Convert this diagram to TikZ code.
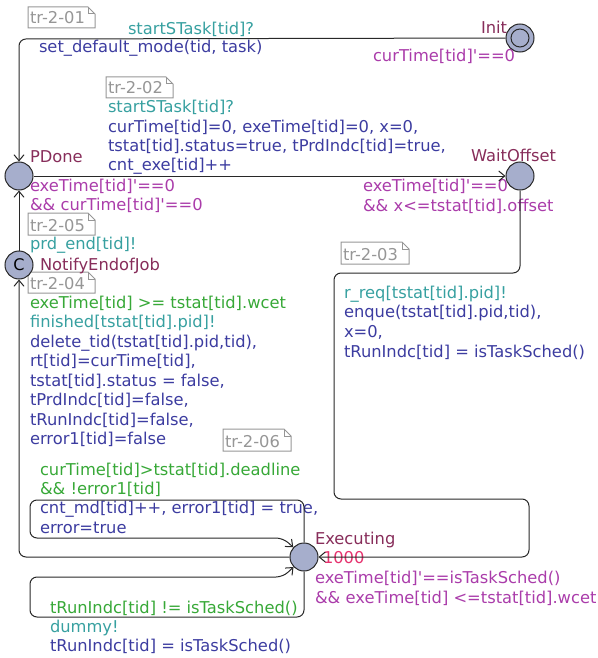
\documentclass[tikz,border=0pt]{standalone}
\usepackage{fontspec}
\setmainfont{DejaVu Sans}
\usetikzlibrary{arrows.meta}
\definecolor{locname}{RGB}{135,45,90}
\definecolor{inv}{RGB}{170,60,170}
\definecolor{guard}{RGB}{55,168,55}
\definecolor{sync}{RGB}{55,160,160}
\definecolor{upd}{RGB}{60,60,160}
\definecolor{notec}{RGB}{150,150,150}
\definecolor{rate}{RGB}{230,50,110}
\definecolor{locfill}{RGB}{166,174,204}
\definecolor{edgec}{RGB}{40,40,40}
\newcommand{\pr}{\textquotesingle}
\newcommand{\lab}[5]{\node[lbl,text=#4] (#1) at (#2,#3) {#5};}
\newcommand{\notebox}[6]{%
  \draw[notebox] (#2,#3) -- ({#4-7},#3) -- (#4,{#3+7}) -- (#4,#5) -- (#2,#5) -- cycle;
  \draw[notebox] ({#4-7},#3) -- ({#4-7},{#3+7}) -- (#4,{#3+7});
  \node[lbl,text=notec] (#1) at ({#2+2},{#5-4}) {#6};}
\begin{document}
\begin{tikzpicture}[x=1pt,y=-1pt,
  lbl/.style={inner sep=0pt,outer sep=0pt,anchor=base west,font=\fontsize{16.3}{19.5}\selectfont},
  loc/.style={circle,draw=edgec,fill=locfill,line width=1pt,minimum size=28pt,inner sep=0pt},
  edge/.style={draw=edgec,line width=1pt,rounded corners=7pt,-{Straight Barb[length=6pt,width=10pt]}},
  notebox/.style={draw=notec,line width=1pt}]
\useasboundingbox (0,0) rectangle (597,658);

% notes
\notebox{t1}{28}{7}{95}{28}{tr-2-01}
\notebox{t2}{106}{77}{173}{98}{tr-2-02}
\notebox{t3}{341}{242}{409}{264}{tr-2-03}
\notebox{t4}{28}{272}{95}{293}{tr-2-04}
\notebox{t5}{28}{213}{95}{235}{tr-2-05}
\notebox{t6}{223}{429}{291}{451}{tr-2-06}

% labels
\lab{n01}{128}{35}{sync}{startSTask[tid]?}
\lab{n02}{39}{53}{upd}{set\_default\_mode(tid, task)}
\lab{n03}{108}{113}{sync}{startSTask[tid]?}
\lab{n04}{108}{132}{upd}{curTime[tid]=0, exeTime[tid]=0, x=0,}
\lab{n05}{108}{151}{upd}{tstat[tid].status=true, tPrdIndc[tid]=true,}
\lab{n06}{108}{170}{upd}{cnt\_exe[tid]++}
\lab{n07}{481}{34}{locname}{Init}
\lab{n08}{373}{62}{inv}{curTime[tid]\pr==0}
\lab{n09}{30}{162}{locname}{PDone}
\lab{n10}{30}{191}{inv}{exeTime[tid]\pr==0}
\lab{n11}{30}{210}{inv}{\&\& curTime[tid]\pr==0}
\lab{n12}{471}{161}{locname}{WaitOffset}
\lab{n13}{363}{191}{inv}{exeTime[tid]\pr==0}
\lab{n14}{363}{211}{inv}{\&\& x<=tstat[tid].offset}
\lab{n15}{30}{249}{sync}{prd\_end[tid]!}
\lab{n16}{40}{270}{locname}{NotifyEndofJob}
\lab{n17}{30}{308}{guard}{exeTime[tid] >= tstat[tid].wcet}
\lab{n18}{30}{327.5}{sync}{finished[tstat[tid].pid]!}
\lab{n19}{30}{347}{upd}{delete\_tid(tstat[tid].pid,tid),}
\lab{n20}{30}{366.5}{upd}{rt[tid]=curTime[tid],}
\lab{n21}{30}{386}{upd}{tstat[tid].status = false,}
\lab{n22}{30}{405.5}{upd}{tPrdIndc[tid]=false,}
\lab{n23}{30}{425}{upd}{tRunIndc[tid]=false,}
\lab{n24}{30}{444.5}{upd}{error1[tid]=false}
\lab{n25}{344}{298}{sync}{r\_req[tstat[tid].pid]!}
\lab{n26}{344}{317}{upd}{enque(tstat[tid].pid,tid),}
\lab{n27}{344}{337}{upd}{x=0,}
\lab{n28}{344}{357}{upd}{tRunIndc[tid] = isTaskSched()}
\lab{n29}{40}{475}{guard}{curTime[tid]>tstat[tid].deadline}
\lab{n30}{40}{494}{guard}{\&\& !error1[tid]}
\lab{n31}{40}{513}{upd}{cnt\_md[tid]++, error1[tid] = true,}
\lab{n32}{40}{533}{upd}{error=true}
\lab{n33}{50}{613}{guard}{tRunIndc[tid] != isTaskSched()}
\lab{n34}{50}{632}{sync}{dummy!}
\lab{n35}{50}{651}{upd}{tRunIndc[tid] = isTaskSched()}
\lab{n36}{315}{544}{locname}{Executing}
\lab{n37}{323}{563}{rate}{1000}
\lab{n38}{315}{583}{inv}{exeTime[tid]\pr==isTaskSched()}
\lab{n39}{315}{603}{inv}{\&\& exeTime[tid] <=tstat[tid].wcet}

% locations
\node[loc] (Init) at (520,38) {};
\node[loc] (PDone) at (19,176) {};
\node[loc] (Wait) at (520,176) {};
\node[loc,font=\fontsize{16}{19}\selectfont] (Notify) at (19,265) {C};
\node[loc] (Exec) at (304,557) {};
\node[circle,draw=edgec,line width=1pt,minimum size=18pt,inner sep=0pt] (InitIn) at (520,38) {};

% edges
\coordinate (a1) at (19,39);
\draw[edge] (Init) -- (a1) -- (PDone);
\draw[edge] (PDone) -- (Wait);
\coordinate (b1) at (520,273);
\coordinate (b2) at (334,273);
\coordinate (b3) at (334,499);
\coordinate (b4) at (529,499);
\coordinate (b5) at (529,557);
\draw[edge] (Wait) -- (b1) -- (b2) -- (b3) -- (b4) -- (b5) -- (Exec);
\coordinate (c1) at (19,557);
\draw[edge] (Exec) -- (c1) -- (Notify);
\draw[edge] (Notify) -- (PDone);
\coordinate (d1) at (304,500);
\coordinate (d2) at (30,500);
\coordinate (d3) at (30,538);
\coordinate (d4) at (283,538);
\draw[edge] (Exec) -- (d1) -- (d2) -- (d3) -- (d4) -- (Exec);
\coordinate (e1) at (304,617);
\coordinate (e2) at (30,617);
\coordinate (e3) at (30,577);
\coordinate (e4) at (283,577);
\draw[edge] (Exec) -- (e1) -- (e2) -- (e3) -- (e4) -- (Exec);
\end{tikzpicture}
\end{document}
